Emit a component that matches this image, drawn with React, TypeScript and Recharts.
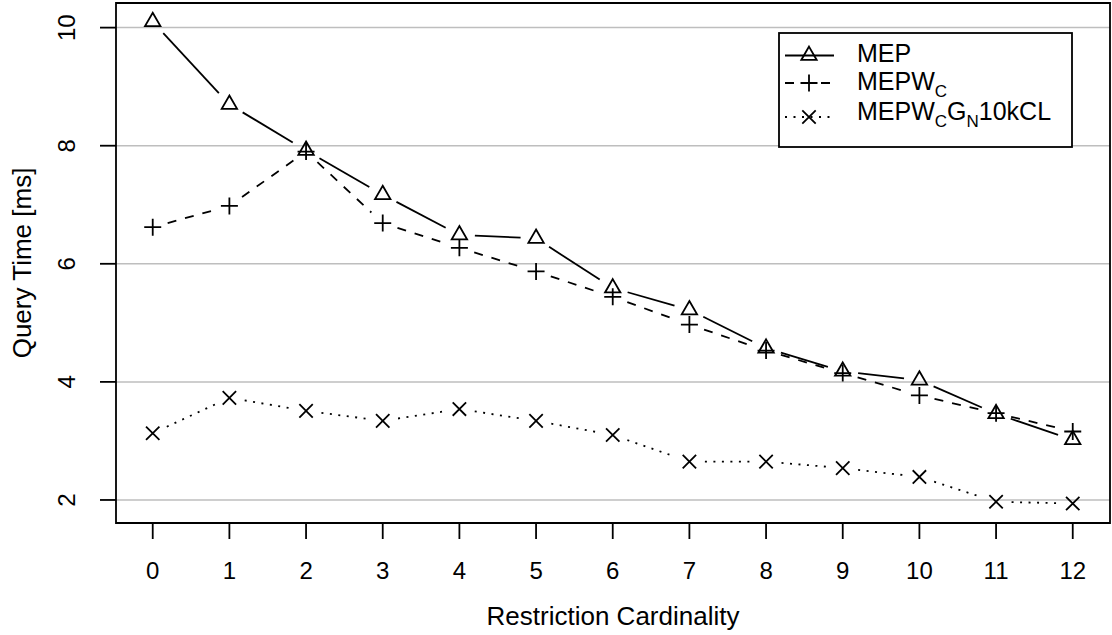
import React from "react";
import {
  LineChart,
  Line,
  XAxis,
  YAxis,
  CartesianGrid,
  ReferenceArea,
  Legend,
  Label,
} from "recharts";

// restriction cardinality (x) and query times in ms
const cardinality = [0, 1, 2, 3, 4, 5, 6, 7, 8, 9, 10, 11, 12];
const mep = [10.1, 8.7, 7.92, 7.17, 6.49, 6.43, 5.59, 5.22, 4.57, 4.18, 4.03, 3.46, 3.02];
const mepWc = [6.62, 6.98, 7.9, 6.69, 6.27, 5.87, 5.44, 4.97, 4.53, 4.15, 3.77, 3.47, 3.16];
const mepWcGn = [3.13, 3.73, 3.51, 3.34, 3.54, 3.34, 3.1, 2.65, 2.65, 2.54, 2.39, 1.97, 1.94];
const yTicks = [2, 4, 6, 8, 10];

const rows = cardinality.map((c, i) => ({
  x: c,
  mep: mep[i],
  mepWc: mepWc[i],
  mepWcGn: mepWcGn[i],
}));

const FONT = "'Liberation Sans', Arial, Helvetica, sans-serif";
const INK = "#000";
const LW = 1.8;
const GAP = 15.5; // R type="b" leaves a gap round every point
const X_DOMAIN: [number, number] = [-0.479, 12.486];
const Y_DOMAIN: [number, number] = [1.61, 10.417];

type Shape = "triangle" | "plus" | "cross";

function marker(shape: Shape, cx: number, cy: number) {
  if (shape === "triangle") {
    const r = 8.9;
    const h = 7.7;
    return (
      <polygon
        points={`${cx},${cy - r} ${cx + h},${cy + r / 2} ${cx - h},${cy + r / 2}`}
        fill="none"
        stroke={INK}
        strokeWidth={LW}
      />
    );
  }
  if (shape === "plus") {
    const a = 8.5;
    return (
      <path
        d={`M${cx - a},${cy}H${cx + a}M${cx},${cy - a}V${cy + a}`}
        stroke={INK}
        strokeWidth={LW}
        fill="none"
      />
    );
  }
  const a = 6.7;
  return (
    <path
      d={`M${cx - a},${cy - a}L${cx + a},${cy + a}M${cx - a},${cy + a}L${cx + a},${cy - a}`}
      stroke={INK}
      strokeWidth={LW}
      fill="none"
    />
  );
}

// draws the point and the gapped segment to the next point
function makeDot(shape: Shape, dash?: string) {
  return (props: any) => {
    const { cx, cy, index, points } = props;
    const next = points && points[index + 1];
    let seg = null;
    if (next) {
      const dx = next.x - cx;
      const dy = next.y - cy;
      const len = Math.hypot(dx, dy);
      if (len > 2 * GAP) {
        const ux = dx / len;
        const uy = dy / len;
        seg = (
          <line
            x1={cx + ux * GAP}
            y1={cy + uy * GAP}
            x2={next.x - ux * GAP}
            y2={next.y - uy * GAP}
            stroke={INK}
            strokeWidth={LW}
            strokeDasharray={dash}
          />
        );
      }
    }
    return (
      <g key={`${shape}-${index}`}>
        {seg}
        {marker(shape, cx, cy)}
      </g>
    );
  };
}

// label parts: odd entries are subscripts
const series = [
  { key: "mep", shape: "triangle" as Shape, dash: undefined, label: ["MEP"], base: 30, mark: 23.5 },
  { key: "mepWc", shape: "plus" as Shape, dash: "9 9", label: ["MEPW", "C"], base: 58, mark: 51 },
  {
    key: "mepWcGn",
    shape: "cross" as Shape,
    dash: "2 6.5",
    label: ["MEPW", "C", "G", "N", "10kCL"],
    base: 88,
    mark: 85,
  },
];

function LegendBox() {
  return (
    <svg width={295} height={116} style={{ display: "block" }}>
      <rect x={1} y={1} width={293} height={114} fill="#fff" stroke={INK} strokeWidth={LW} />
      {series.map((s) => (
        <g key={s.key}>
          <line x1={7} y1={s.mark} x2={56} y2={s.mark} stroke={INK} strokeWidth={LW} strokeDasharray={s.dash} />
          {marker(s.shape, 31, s.mark)}
          <text x={79} y={s.base} fontSize={25} fontFamily={FONT} fill={INK}>
            {s.label.map((part, i) =>
              i % 2 === 1 ? (
                <tspan key={i} fontSize={17} dy={7}>
                  {part}
                </tspan>
              ) : (
                <tspan key={i} dy={i > 0 ? -7 : 0}>
                  {part}
                </tspan>
              )
            )}
          </text>
        </g>
      ))}
    </svg>
  );
}

const XTick = (p: any) => (
  <text x={p.x} y={p.y + 40} textAnchor="middle" fontSize={24} fontFamily={FONT} fill={INK}>
    {p.payload.value}
  </text>
);

const YTick = (p: any) => {
  const x = p.x - 25;
  return (
    <text
      x={x}
      y={p.y}
      transform={`rotate(-90, ${x}, ${p.y})`}
      textAnchor="middle"
      fontSize={24}
      fontFamily={FONT}
      fill={INK}
    >
      {p.payload.value}
    </text>
  );
};

export default function App() {
  return (
    <div style={{ position: "absolute", left: 0, top: 0, background: "#fff" }}>
      <LineChart width={1112} height={635} data={rows} margin={{ top: 3, right: 2, bottom: 0, left: 0 }}>
        <CartesianGrid vertical={false} stroke="#bebebe" strokeWidth={1.5} />
        <XAxis
          dataKey="x"
          type="number"
          domain={X_DOMAIN}
          ticks={cardinality}
          allowDataOverflow
          height={112}
          tickSize={16}
          tickMargin={0}
          axisLine={false}
          tickLine={{ stroke: INK, strokeWidth: LW }}
          tick={<XTick />}
          interval={0}
        >
          <Label
            content={(p: any) => (
              <text
                x={p.viewBox.x + p.viewBox.width / 2}
                y={625}
                textAnchor="middle"
                fontSize={26}
                fontFamily={FONT}
                fill={INK}
              >
                Restriction Cardinality
              </text>
            )}
          />
        </XAxis>
        <YAxis
          type="number"
          domain={Y_DOMAIN}
          ticks={yTicks}
          allowDataOverflow
          width={116}
          tickSize={16}
          tickMargin={0}
          axisLine={false}
          tickLine={{ stroke: INK, strokeWidth: LW }}
          tick={<YTick />}
          interval={0}
        >
          <Label
            content={() => (
              <text
                x={31}
                y={263}
                transform="rotate(-90, 31, 263)"
                textAnchor="middle"
                fontSize={26}
                fontFamily={FONT}
                fill={INK}
              >
                Query Time [ms]
              </text>
            )}
          />
        </YAxis>
        <ReferenceArea
          x1={X_DOMAIN[0]}
          x2={X_DOMAIN[1]}
          y1={Y_DOMAIN[0]}
          y2={Y_DOMAIN[1]}
          fill="none"
          stroke={INK}
          strokeWidth={LW}
          ifOverflow="visible"
        />
        {series.map((s) => (
          <Line
            key={s.key}
            dataKey={s.key}
            stroke="none"
            dot={makeDot(s.shape, s.dash)}
            activeDot={false}
            legendType="none"
            isAnimationActive={false}
          />
        ))}
        <Legend
          layout="horizontal"
          verticalAlign="middle"
          align="center"
          wrapperStyle={{ left: 778, top: 32, width: 295, height: 116 }}
          content={() => <LegendBox />}
        />
      </LineChart>
    </div>
  );
}
